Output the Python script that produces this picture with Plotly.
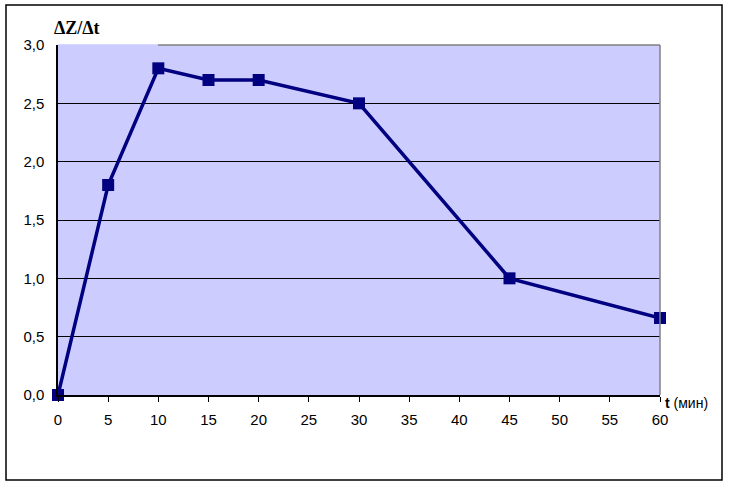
import plotly.graph_objects as go

t_min = [0, 5, 10, 15, 20, 30, 45, 60]
dz_dt = [0.0, 1.8, 2.8, 2.7, 2.7, 2.5, 1.0, 0.66]
x_ticks = list(range(0, 61, 5))
y_ticks = [0.0, 0.5, 1.0, 1.5, 2.0, 2.5, 3.0]

fig = go.Figure()
fig.add_trace(go.Scatter(
    x=t_min, y=dz_dt, mode="lines+markers",
    line=dict(color="#000080", width=3.5),
    marker=dict(symbol="square", size=12, color="#000080"),
    cliponaxis=False, showlegend=False,
))

font = dict(family="Liberation Sans, Arial, sans-serif", size=15, color="#000000")

fig.update_layout(
    width=730, height=485,
    margin=dict(l=58, r=70, t=45, b=90),
    paper_bgcolor="white", plot_bgcolor="#CCCCFF",
    separators=",.",
    font=font,
    xaxis=dict(range=[0, 60], tickvals=x_ticks, showgrid=False, zeroline=False,
               showline=True, linecolor="black", linewidth=1.5,
               ticks="outside", ticklen=5, tickcolor="black", tickfont=font,
               ticklabelstandoff=5),
    yaxis=dict(range=[0, 3], tickvals=y_ticks, tickformat=".1f", showgrid=True,
               gridcolor="black", gridwidth=1, zeroline=False,
               showline=True, linecolor="black", linewidth=1.5,
               ticks="outside", ticklen=9, tickcolor="rgba(0,0,0,0)", tickfont=font),
    shapes=[
        dict(type="rect", xref="paper", yref="paper", x0=-52/602, x1=1 + 62/602,
             y0=-85/350, y1=1 + 40/350, line=dict(color="black", width=1.5),
             fillcolor="rgba(0,0,0,0)", layer="below"),
        dict(type="line", xref="paper", yref="paper", x0=100/602, x1=1, y0=1, y1=1,
             line=dict(color="#808080", width=1.5), layer="above"),
        dict(type="line", xref="paper", yref="paper", x0=0, x1=100/602, y0=1, y1=1,
             line=dict(color="#CCCCFF", width=1.5), layer="above"),
        dict(type="line", xref="paper", yref="paper", x0=1, x1=1, y0=0, y1=1,
             line=dict(color="#808080", width=1.5), layer="above"),
    ],
    annotations=[
        dict(text="<b>ΔZ/Δt</b>", xref="paper", yref="paper", x=-6/602, y=1 + 17/350,
             xanchor="left", yanchor="middle", showarrow=False,
             font=dict(family="Liberation Serif, Times New Roman, serif", size=18, color="black")),
        dict(text="<b>t</b> (мин)", xref="paper", yref="paper", x=1 + 3/602, y=-8/350,
             xanchor="left", yanchor="middle", showarrow=False,
             font=dict(family="Liberation Sans, Arial, sans-serif", size=14, color="black")),
    ],
)

fig.write_html("out.html", config={"displayModeBar": False},
               post_script="document.body.style.margin='0';document.body.style.padding='0';")
